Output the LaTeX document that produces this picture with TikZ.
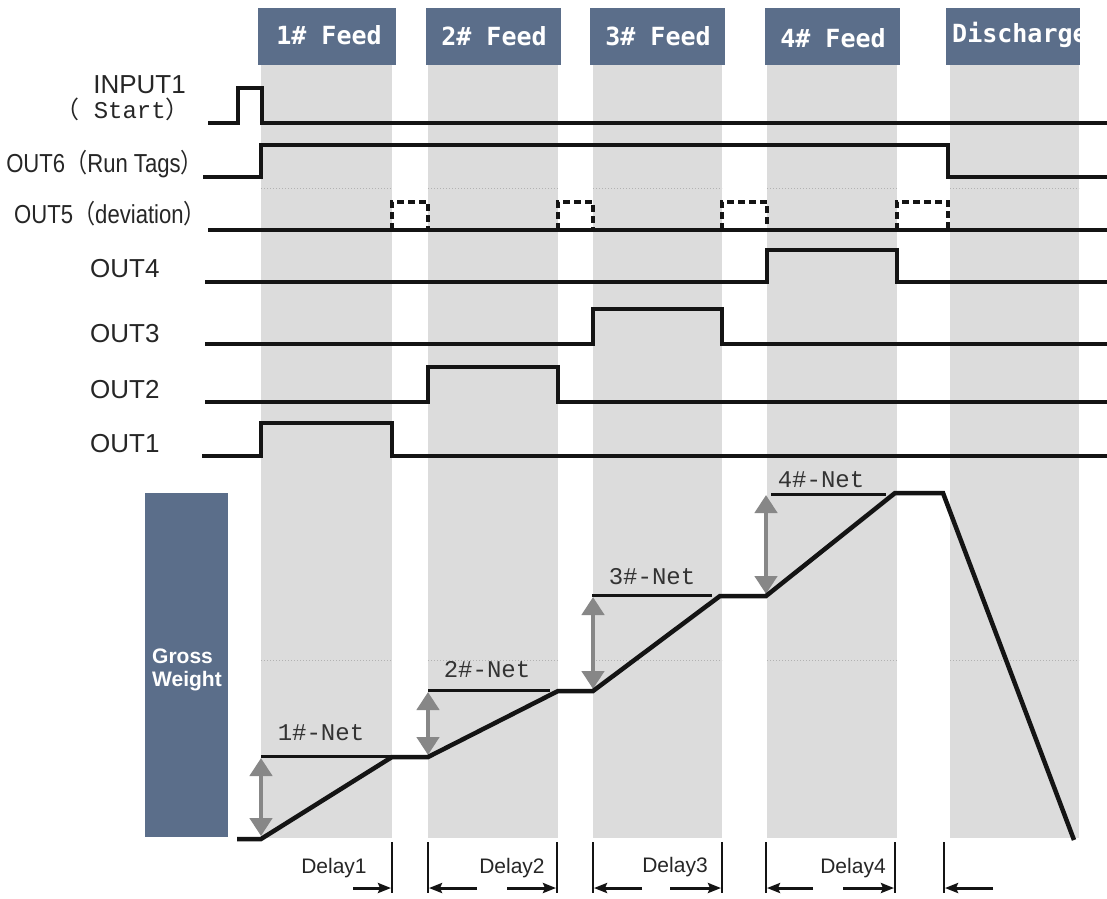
\documentclass[tikz,border=0pt]{standalone}
\usepackage{fontspec}
\setmainfont{Liberation Sans}
\newfontfamily\monofont{Liberation Mono}
\newfontfamily\headfont{DejaVu Sans Mono}
\newfontfamily\cjk{Noto Sans CJK SC}
\usetikzlibrary{arrows.meta}
\definecolor{slate}{RGB}{91,110,138}
\definecolor{bandgray}{RGB}{220,220,220}
\definecolor{garrow}{RGB}{135,135,135}
\definecolor{ink}{RGB}{20,20,20}
\begin{document}
\begin{tikzpicture}[x=1pt,y=-1pt,
  sig/.style={line width=4pt, draw=ink},
  dev/.style={line width=3.5pt, draw=ink, dash pattern=on 7pt off 4pt},
  hdrtext/.style={text=white, font=\headfont\bfseries\fontsize{25}{25}\selectfont, inner sep=0},
  lbl/.style={font=\fontsize{26}{26}\selectfont, text=black!85, inner sep=0},
  monolbl/.style={font=\monofont\fontsize{24}{24}\selectfont, text=black!85, inner sep=0},
  netline/.style={line width=3pt, draw=ink},
  netlbl/.style={font=\monofont\fontsize{24}{24}\selectfont, inner sep=0, text=black!80},
  garr/.style={draw=garrow, line width=4.5pt, {Triangle[length=18pt,width=22pt]}-{Triangle[length=18pt,width=22pt]}},
  tickline/.style={line width=2.8pt, draw=ink},
  darr/.style={line width=3pt, draw=ink, -{Stealth[length=13pt,width=10pt,inset=2pt]}},
  dlbl/.style={font=\fontsize{21}{21}\selectfont, inner sep=0, text=black!85},
  weight/.style={line width=4.5pt, draw=ink},
  gwtext/.style={font=\bfseries\fontsize{21}{23}\selectfont, text=white, anchor=base west, inner sep=0},
  faint/.style={draw=black!30, line width=1pt, dotted}
]
\useasboundingbox (0,0) rectangle (1107,898);
\fill[white] (0,0) rectangle (1107,898);

% ---- bands
\foreach \a/\b in {261/392, 428/558, 593/722, 767/897, 950/1079}{
  \fill[bandgray] (\a,65) rectangle (\b,838);
  \draw[faint] (\a,188) -- (\b,188);
  \draw[faint] (\a,660) -- (\b,660);
}

% ---- headers
\fill[slate] (258,8) rectangle (396,65);
\fill[slate] (426,8) rectangle (561,65);
\fill[slate] (590,8) rectangle (725,65);
\fill[slate] (765,8) rectangle (900,65);
\fill[slate] (946,8) rectangle (1080,65);
\node[hdrtext] (h1) at (329,35) {1\# Feed};
\node[hdrtext] (h2) at (494,36) {2\# Feed};
\node[hdrtext] (h3) at (658,36) {3\# Feed};
\node[hdrtext] (h4) at (833,38) {4\# Feed};
\begin{scope}
  \clip (946,8) rectangle (1080,65);
  \node[hdrtext, anchor=base west] (h5) at (952,42) {Discharge};
\end{scope}

% ---- signal labels
\node[lbl, anchor=base east] (lin) at (186,93) {INPUT1};
\node[monolbl, anchor=base east] (lst) at (190,118) {{\cjk（} Start{\cjk）}};
\node[lbl, anchor=base east] (l6) at (203,172) {\scalebox{0.85}[1]{OUT6{\cjk（}Run Tags{\cjk）}}};
\node[lbl, anchor=base east] (l5) at (206,223) {\scalebox{0.85}[1]{OUT5{\cjk（}deviation{\cjk）}}};
\node[lbl, anchor=base west] (l4) at (90,277) {OUT4};
\node[lbl, anchor=base west] (l3) at (90,342) {OUT3};
\node[lbl, anchor=base west] (l2) at (90,398) {OUT2};
\node[lbl, anchor=base west] (l1) at (90,452) {OUT1};

% ---- signals
\draw[sig] (208,123) -- (238,123) -- (238,88) -- (262,88) -- (262,123) -- (1107,123);
\draw[sig] (203,177) -- (261,177) -- (261,145) -- (948,145) -- (948,177) -- (1107,177);
\draw[sig] (208,230) -- (1107,230);
\foreach \a/\b in {392/428, 558/593, 722/767, 897/948}{
  \draw[dev] (\a,230) -- (\a,202) -- (\b,202) -- (\b,230);
}
\draw[sig] (205,282) -- (767,282) -- (767,250) -- (897,250) -- (897,282) -- (1107,282);
\draw[sig] (205,344) -- (593,344) -- (593,309) -- (722,309) -- (722,344) -- (1107,344);
\draw[sig] (205,402) -- (428,402) -- (428,367) -- (558,367) -- (558,402) -- (1107,402);
\draw[sig] (202,456) -- (261,456) -- (261,423) -- (392,423) -- (392,456) -- (1107,456);

% ---- gross weight panel
\fill[slate] (145,493) rectangle (228,837);
\node[gwtext] (gw1) at (152,663) {Gross};
\node[gwtext] (gw2) at (152,686) {Weight};

% net reference lines and labels
\draw[netline] (261,756) -- (392,756);
\draw[netline] (428,690) -- (550,690);
\draw[netline] (592,595) -- (712,595);
\draw[netline] (771,494) -- (886,494);
\node[netlbl] (n1) at (321,733) {1\#-Net};
\node[netlbl] (n2) at (487,670) {2\#-Net};
\node[netlbl] (n3) at (652,577) {3\#-Net};
\node[netlbl] (n4) at (821,480) {4\#-Net};

% gray double arrows
\draw[garr] (261,836) -- (261,758);
\draw[garr] (428,755) -- (428,692);
\draw[garr] (593,689) -- (593,597);
\draw[garr] (766,594) -- (766,495);

% weight curve
\draw[weight] (237,839) -- (261,839) -- (392,757) -- (428,757) -- (558,691) -- (593,691) -- (720,596) -- (766,596) -- (895,493) -- (943,493) -- (1074,840);

% ---- delays
\foreach \x in {392, 428, 557, 593, 722, 766, 895, 944}{
  \draw[tickline] (\x,842) -- (\x,893);
}
\node[dlbl] (d1) at (334,868) {Delay1};
\node[dlbl] (d2) at (512,868) {Delay2};
\node[dlbl] (d3) at (675,867) {Delay3};
\node[dlbl] (d4) at (853,868) {Delay4};
\draw[darr] (353,888) -- (391,888);
\draw[darr] (477,888) -- (429,888);
\draw[darr] (507,888) -- (556,888);
\draw[darr] (642,888) -- (594,888);
\draw[darr] (670,888) -- (721,888);
\draw[darr] (813,888) -- (767,888);
\draw[darr] (843,888) -- (894,888);
\draw[darr] (993,888) -- (945,888);
\end{tikzpicture}
\end{document}
